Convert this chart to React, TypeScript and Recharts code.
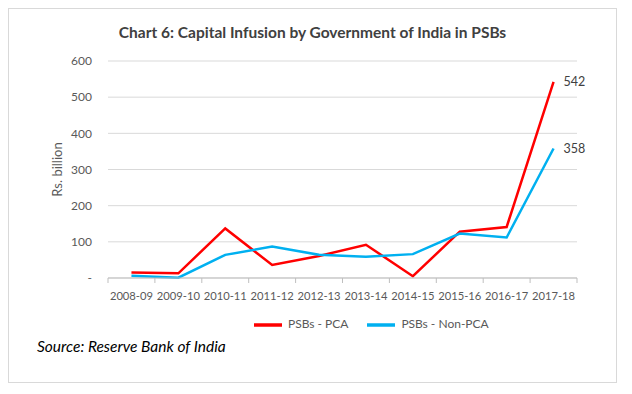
import React from 'react';
import { LineChart, Line, XAxis, YAxis, CartesianGrid, Legend, LabelList } from 'recharts';

const years = ['2008-09', '2009-10', '2010-11', '2011-12', '2012-13', '2013-14', '2014-15', '2015-16', '2016-17', '2017-18'];
const pca = [15, 13, 137, 36, 61, 92, 5, 128, 141, 542];
const nonPca = [6, 1, 64, 87, 64, 59, 66, 123, 112, 358];
const yTicks = [0, 100, 200, 300, 400, 500, 600];

const data = years.map((year, i) => ({ year, pca: pca[i], nonPca: nonPca[i] }));

const FONT = 'Lato, "Open Sans", sans-serif';
const TEXT = '#595959';

const XTick = (props: any) => {
  const { x, y, payload, index } = props;
  const half = payload && payload.offset ? payload.offset : 23.5;
  return (
    <g>
      <line x1={x - half} y1={y - 8} x2={x - half} y2={y - 3} stroke="#bfbfbf" />
      {index === years.length - 1 && (
        <line x1={x + half} y1={y - 8} x2={x + half} y2={y - 3} stroke="#bfbfbf" />
      )}
      <text x={x} y={y + 14} textAnchor="middle" fill={TEXT} fontSize={11.2} fontFamily={FONT}>
        {payload.value}
      </text>
    </g>
  );
};

const EndLabel = (props: any) => {
  const { x, y, value, index } = props;
  if (index !== years.length - 1) return null;
  return (
    <text x={x + 10} y={y} dy={4} fill="#404040" fontSize={12.5} fontFamily={FONT}>
      {value}
    </text>
  );
};

const order: Record<string, number> = { pca: 0, nonPca: 1 };

export default function App() {
  return (
    <div
      style={{
        position: 'relative',
        width: 607,
        height: 373,
        border: '1px solid #d9d9d9',
        fontFamily: FONT,
        background: '#fff',
      }}
    >
      <div
        style={{
          position: 'absolute',
          top: 14,
          left: 0,
          width: 607,
          textAlign: 'center',
          fontSize: 15.5,
          fontWeight: 'bold',
          color: '#404040',
        }}
      >
        Chart 6: Capital Infusion by Government of India in PSBs
      </div>
      <LineChart
        width={607}
        height={330}
        data={data}
        margin={{ top: 52, right: 39, left: 20, bottom: 0 }}
        style={{ position: 'absolute', top: 0, left: 0 }}
      >
        <CartesianGrid vertical={false} stroke="#d9d9d9" />
        <XAxis
          dataKey="year"
          scale="band"
          stroke="#bfbfbf"
          tickLine={false}
          tick={<XTick />}
          height={33}
          interval={0}
        />
        <YAxis
          width={79}
          domain={[0, 600]}
          ticks={yTicks}
          axisLine={false}
          tickLine={false}
          tickSize={0}
          tickMargin={16}
          tickFormatter={(v: number) => (v === 0 ? '-' : String(v))}
          tick={{ fill: TEXT, fontSize: 12, fontFamily: FONT }}
          label={{
            value: 'Rs. billion',
            angle: -90,
            position: 'insideLeft',
            offset: 28,
            style: { fill: TEXT, fontSize: 13, fontFamily: FONT, textAnchor: 'middle' },
          }}
        />
        <Legend
          verticalAlign="bottom"
          align="left"
          iconType="plainline"
          iconSize={28}
          itemSorter={(item: any) => order[item.dataKey] ?? 0}
          wrapperStyle={{ fontSize: 12, fontFamily: FONT, bottom: 0, left: 245, width: 'auto' }}
          formatter={(v: string) => (
            <span style={{ color: TEXT, marginLeft: 2, marginRight: 9 }}>{v}</span>
          )}
        />
        <Line
          type="linear"
          dataKey="pca"
          name="PSBs - PCA"
          stroke="#ff0000"
          strokeWidth={2.5}
          dot={false}
          isAnimationActive={false}
        >
          <LabelList dataKey="pca" content={<EndLabel />} />
        </Line>
        <Line
          type="linear"
          dataKey="nonPca"
          name="PSBs - Non-PCA"
          stroke="#00b0f0"
          strokeWidth={2.5}
          dot={false}
          isAnimationActive={false}
        >
          <LabelList dataKey="nonPca" content={<EndLabel />} />
        </Line>
      </LineChart>
      <div
        style={{
          position: 'absolute',
          top: 328,
          left: 28,
          fontSize: 15.5,
          fontStyle: 'italic',
          color: '#000',
        }}
      >
        Source: Reserve Bank of India
      </div>
    </div>
  );
}
